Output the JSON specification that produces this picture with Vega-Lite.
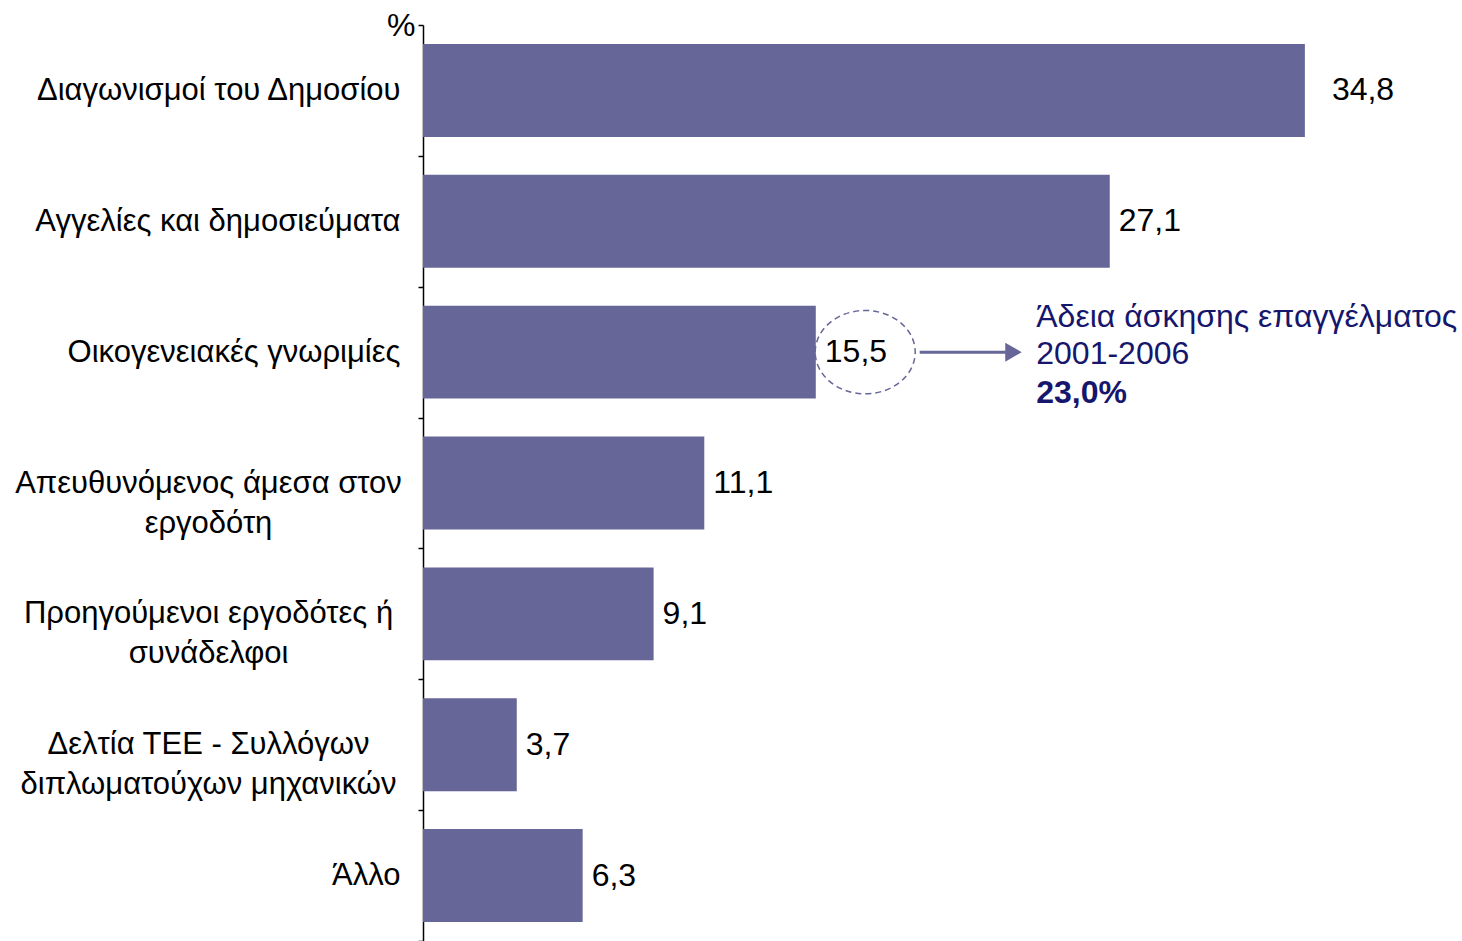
{
  "$schema": "https://vega.github.io/schema/vega-lite/v6.json",
  "width": 1039,
  "height": 916,
  "autosize": {"type": "none"},
  "padding": {"left": 423, "top": 25, "right": 0, "bottom": 0},
  "background": "white",
  "config": {
    "view": {"stroke": null},
    "font": "Liberation Sans",
    "locale": {"number": {"decimal": ",", "thousands": ".", "grouping": [3], "currency": ["", " €"]}}
  },
  "datasets": {
    "bars": [
      {"cat": "Διαγωνισμοί του Δημοσίου", "v": 34.8},
      {"cat": "Αγγελίες και δημοσιεύματα", "v": 27.1},
      {"cat": "Οικογενειακές γνωριμίες", "v": 15.5},
      {"cat": "Απευθυνόμενος άμεσα στον|εργοδότη", "v": 11.1},
      {"cat": "Προηγούμενοι εργοδότες ή|συνάδελφοι", "v": 9.1},
      {"cat": "Δελτία ΤΕΕ - Συλλόγων|διπλωματούχων μηχανικών", "v": 3.7},
      {"cat": "Άλλο", "v": 6.3}
    ],
    "note": [
      {"cat": "Οικογενειακές γνωριμίες", "ex": 17.45, "a1": 19.6, "a2": 23.0, "ah": 23.3, "tx": 24.2,
       "l1": "Άδεια άσκησης επαγγέλματος", "l2": "2001-2006", "l3": "23,0%"}
    ]
  },
  "encoding": {
    "y": {
      "field": "cat",
      "type": "nominal",
      "sort": null,
      "scale": {
        "domain": [
          "Διαγωνισμοί του Δημοσίου",
          "Αγγελίες και δημοσιεύματα",
          "Οικογενειακές γνωριμίες",
          "Απευθυνόμενος άμεσα στον|εργοδότη",
          "Προηγούμενοι εργοδότες ή|συνάδελφοι",
          "Δελτία ΤΕΕ - Συλλόγων|διπλωματούχων μηχανικών",
          "Άλλο"
        ],
        "paddingInner": 0,
        "paddingOuter": 0
      },
      "axis": {
        "title": "%",
        "titleAngle": 0,
        "titleX": -8,
        "titleY": 0,
        "titleAlign": "right",
        "titleBaseline": "middle",
        "titleFontSize": 32,
        "titleFontWeight": "normal",
        "titleColor": "black",
        "titleFont": "Liberation Sans",
        "labelExpr": "isString(datum.value) ? split(datum.value, '|') : ''",
        "labelFontSize": 31,
        "labelColor": "black",
        "labelFont": "Liberation Sans",
        "labelPadding": {"condition": {"test": "isString(datum.value) && indexof(datum.value, '|') >= 0", "value": 210}, "value": 18},
        "labelLineHeight": 40,
        "labelLimit": 600,
        "labelAlign": {"condition": {"test": "isString(datum.value) && indexof(datum.value, '|') >= 0", "value": "center"}, "value": "right"},
        "tickBand": "extent",
        "tickSize": 5,
        "tickColor": "black",
        "tickWidth": 1.5,
        "domainColor": "black",
        "domainWidth": 1.5
      }
    }
  },
  "layer": [
    {
      "data": {"name": "bars"},
      "mark": {"type": "bar", "color": "#666699", "height": {"band": 0.71}},
      "encoding": {
        "x": {"field": "v", "type": "quantitative", "scale": {"domain": [0, 41], "nice": false, "zero": true}, "axis": null}
      }
    },
    {
      "data": {"name": "bars"},
      "mark": {"type": "text", "align": "left", "baseline": "middle", "fontSize": 32, "color": "black", "dx": {"expr": "datum.v > 30 ? 27 : 9"}},
      "encoding": {
        "x": {"field": "v", "type": "quantitative"},
        "text": {"field": "v", "type": "quantitative", "format": ".1f"}
      }
    },
    {
      "data": {"name": "note"},
      "mark": {"type": "point", "shape": "M -1.2,0 A 1.2,1 0 1,1 1.2,0 A 1.2,1 0 1,1 -1.2,0 Z", "size": 6944, "filled": false, "stroke": "#666699", "strokeWidth": 1.5, "strokeDash": [6, 4], "opacity": 1},
      "encoding": {
        "x": {"field": "ex", "type": "quantitative"}
      }
    },
    {
      "data": {"name": "note"},
      "mark": {"type": "rule", "color": "#666699", "strokeWidth": 3},
      "encoding": {
        "x": {"field": "a1", "type": "quantitative"},
        "x2": {"field": "a2"}
      }
    },
    {
      "data": {"name": "note"},
      "mark": {"type": "point", "shape": "triangle-right", "filled": true, "color": "#666699", "size": 360, "opacity": 1},
      "encoding": {
        "x": {"field": "ah", "type": "quantitative"}
      }
    },
    {
      "data": {"name": "note"},
      "mark": {"type": "text", "align": "left", "baseline": "middle", "fontSize": 32, "color": "#16166c", "dy": -35},
      "encoding": {
        "x": {"field": "tx", "type": "quantitative"},
        "text": {"field": "l1"}
      }
    },
    {
      "data": {"name": "note"},
      "mark": {"type": "text", "align": "left", "baseline": "middle", "fontSize": 32, "color": "#16166c", "dy": 2},
      "encoding": {
        "x": {"field": "tx", "type": "quantitative"},
        "text": {"field": "l2"}
      }
    },
    {
      "data": {"name": "note"},
      "mark": {"type": "text", "align": "left", "baseline": "middle", "fontSize": 32, "fontWeight": "bold", "color": "#16166c", "dy": 41},
      "encoding": {
        "x": {"field": "tx", "type": "quantitative"},
        "text": {"field": "l3"}
      }
    }
  ]
}
